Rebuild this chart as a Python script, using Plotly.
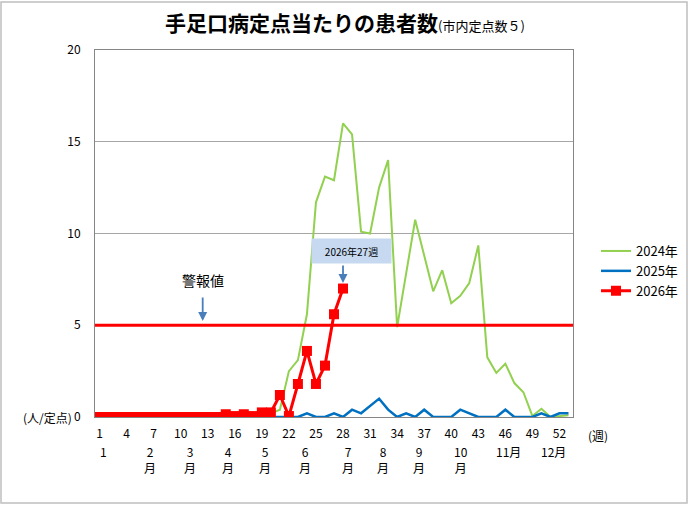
import plotly.graph_objects as go

# ---- data ----
weeks = list(range(1, 54))
tick_weeks = list(range(1, 53, 3))
y_ticks = [0, 5, 10, 15, 20]

series_2024 = [0, 0, 0, 0, 0, 0, 0, 0, 0, 0, 0, 0, 0, 0, 0, 0, 0, 0.1, 0.1,
               0.2, 0.4, 2.5, 3.1, 5.6, 11.7, 13.1, 12.9, 16.0, 15.4, 10.1, 10.0,
               12.5, 14.0, 4.9, 7.8, 10.75, 8.8, 6.85, 8.0, 6.2, 6.6, 7.3, 9.35,
               3.25, 2.4, 2.9, 1.85, 1.35, 0.05, 0.45, 0.0, 0.05, 0.1]
series_2025 = [0, 0.2, 0, 0, 0, 0, 0, 0, 0, 0, 0, 0, 0, 0, 0, 0, 0, 0, 0, 0, 0,
               0, 0, 0.2, 0, 0, 0.2, 0, 0.4, 0.2, 0.6, 1.0, 0.4, 0, 0.2, 0, 0.4,
               0, 0, 0, 0.4, 0.2, 0, 0, 0, 0.4, 0, 0, 0, 0.2, 0, 0.2, 0.2]
series_2026 = [0, 0, 0, 0, 0, 0, 0, 0, 0, 0, 0, 0, 0, 0,
               0.15, 0.05, 0.15, 0.05, 0.25, 0.25, 1.2, 0.05, 1.8, 3.6, 1.8, 2.8,
               5.6, 7.0]
alert_level = 5

series_names = ["2024年", "2025年", "2026年"]
month_labels = ["1", "2<br>月", "3<br>月", "4<br>月", "5<br>月", "6<br>月",
                "7<br>月", "8<br>月", "9<br>月", "10<br>月", "11月", "12月"]
# label positions (in week units) under the axis
month_pos = [1.45, 6.55, 11.0, 15.3, 19.3, 23.8, 28.6, 32.4, 36.4, 41.1, 46.4, 51.3]

title_main = "手足口病定点当たりの患者数"
title_sub = "(市内定点数５)"

FONT = "Noto Sans CJK JP"

# ---- geometry helpers (pixel -> paper) ----
L, R, T, B = 95, 117, 50, 89
W, H = 690, 506
PW, PH = W - L - R, H - T - B


def px(x):
    return (x - L) / PW


def py(y):
    return (H - B - y) / PH


fig = go.Figure()
fig.add_trace(go.Scatter(x=weeks[:len(series_2024)], y=series_2024, name=series_names[0],
                         mode="lines", line=dict(color="#92d050", width=2)))
fig.add_trace(go.Scatter(x=weeks[:len(series_2025)], y=series_2025, name=series_names[1],
                         mode="lines", line=dict(color="#0070c0", width=2.5)))
fig.add_trace(go.Scatter(x=weeks[:len(series_2026)], y=series_2026, name=series_names[2],
                         mode="lines+markers", line=dict(color="#ff0000", width=3),
                         marker=dict(symbol="square", size=10, color="#ff0000")))

# alert level line
fig.add_shape(type="line", xref="paper", x0=0, x1=1, yref="y", y0=alert_level, y1=alert_level,
              line=dict(color="#ff0000", width=3), layer="above")

# outer frame
fig.add_shape(type="rect", xref="paper", yref="paper",
              x0=px(1), x1=px(687), y0=py(503), y1=py(2),
              line=dict(color="#bfbfbf", width=1.5), layer="below")

ann = []
ann.append(dict(xref="paper", yref="paper", x=0.5 * (px(163) + px(527)), y=py(22),
                xanchor="center", yanchor="middle", showarrow=False,
                text=f"<b>{title_main}</b><span style='font-size:13px'>{title_sub}</span>",
                font=dict(family=FONT, size=21, color="#000000")))
ann.append(dict(xref="paper", yref="paper", x=px(74), y=py(417), xanchor="right",
                yanchor="middle", showarrow=False, text="(人/定点)",
                font=dict(family=FONT, size=12, color="#000000")))
ann.append(dict(xref="paper", yref="paper", x=px(598), y=py(435), xanchor="center",
                yanchor="middle", showarrow=False, text="(週)",
                font=dict(family=FONT, size=12, color="#000000")))
for lab, pos in zip(month_labels, month_pos):
    ann.append(dict(xref="x", yref="paper", x=pos, y=py(441), xanchor="center",
                    yanchor="top", showarrow=False, text=lab,
                    font=dict(family=FONT, size=12, color="#000000")))

# 警報値 label + arrow
ann.append(dict(xref="x", yref="y", x=12.44, y=(417 - 280) / 18.35, showarrow=False,
                text="警報値", font=dict(family=FONT, size=14, color="#000000"),
                xanchor="center", yanchor="middle"))
ann.append(dict(xref="x", yref="y", x=12.44, y=(417 - 321) / 18.35, text="",
                showarrow=True, ax=0, ay=-25, arrowhead=2, arrowsize=1,
                arrowwidth=1.8, arrowcolor="#4a7ebb"))
# 2026年27週 label box + arrow
ann.append(dict(xref="x", yref="y", x=28.9, y=(417 - 251) / 18.35, showarrow=False,
                text="2026年27週", font=dict(family=FONT, size=10, color="#000000"),
                bgcolor="#c6d9f0", width=79, height=24, borderpad=0,
                xanchor="center", yanchor="middle"))
ann.append(dict(xref="x", yref="y", x=28, y=(417 - 283) / 18.35, text="",
                showarrow=True, ax=0, ay=-19, arrowhead=2, arrowsize=1,
                arrowwidth=1.8, arrowcolor="#4a7ebb"))

fig.update_layout(
    width=W, height=H,
    margin=dict(l=L, r=R, t=T, b=B, pad=0, autoexpand=False),
    paper_bgcolor="white", plot_bgcolor="white",
    font=dict(family=FONT, size=12, color="#000000"),
    showlegend=True,
    legend=dict(x=px(596), y=py(236), xanchor="left", yanchor="top",
                font=dict(family=FONT, size=13, color="#000000"),
                bgcolor="rgba(0,0,0,0)", itemwidth=30, tracegroupgap=0),
    annotations=ann,
)
fig.update_xaxes(range=[0.5, 53.5], tickvals=tick_weeks, ticktext=[str(t) for t in tick_weeks],
                 showgrid=False, zeroline=False, showline=True, linecolor="#868686",
                 linewidth=1, mirror=True, ticks="", ticklabelstandoff=6,
                 tickfont=dict(family=FONT, size=12, color="#000000"))
fig.update_yaxes(range=[0, 20], tickvals=y_ticks, showgrid=True, gridcolor="#a6a6a6",
                 gridwidth=1, zeroline=False, showline=True, linecolor="#868686",
                 linewidth=1, mirror=True, ticks="", ticklabelstandoff=11,
                 tickfont=dict(family=FONT, size=12, color="#000000"))

fig.write_html("out.html")
